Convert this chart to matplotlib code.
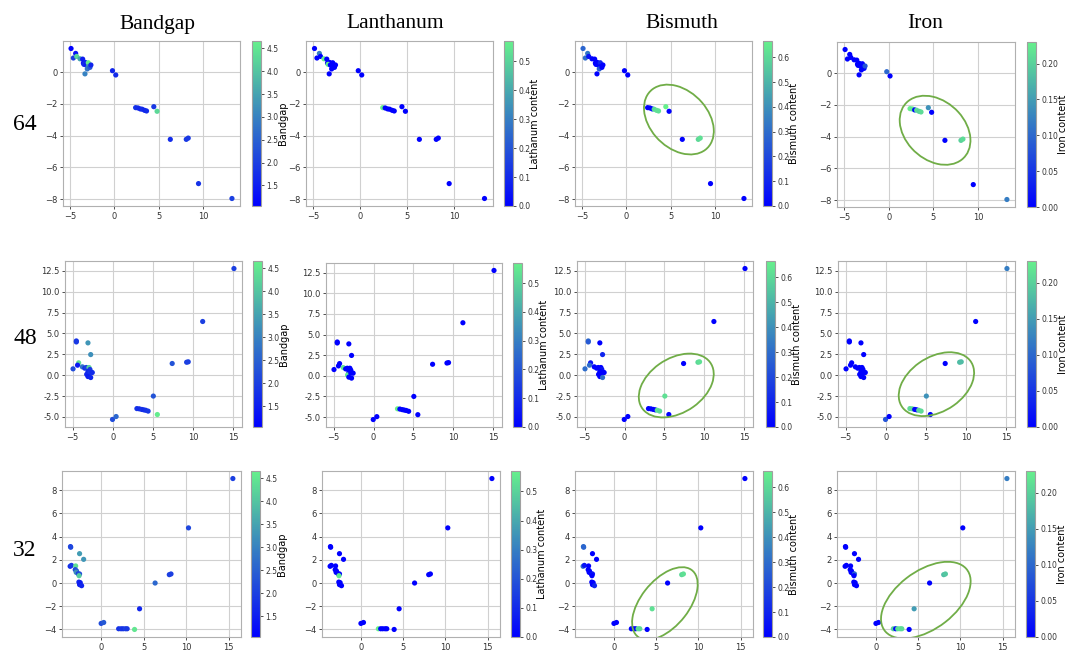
import matplotlib
matplotlib.use("Agg")
import matplotlib.pyplot as plt
from matplotlib.colors import LinearSegmentedColormap, Normalize
from matplotlib.patches import Ellipse
from matplotlib.ticker import MultipleLocator, FormatStrFormatter

# latent coordinates for each embedding size
x64 = [-4.89, -4.37, -4.63, -4.25, -3.88, -3.58, -3.50, -3.28, -3.44, -3.20, -2.95, -2.95, -3.06, -2.76, -2.65, -3.32,
       -0.22, 0.15, 2.39, 2.65, 2.91, 3.13, 3.40, 3.62, 4.44, 4.81, 6.30, 8.10, 8.32, 9.48, 13.25]
y64 = [1.50, 1.19, 0.90, 1.00, 0.85, 0.83, 0.58, 0.62, 0.50, 0.46, 0.60, 0.35, 0.21, 0.31, 0.46, -0.10,
       0.10, -0.17, -2.23, -2.25, -2.31, -2.33, -2.40, -2.44, -2.17, -2.46, -4.23, -4.23, -4.15, -7.02, -7.96]

x48 = [-4.96, -4.55, -4.55, -3.10, -2.76, -4.26, -4.40, -3.80, -3.50, -3.30, -2.97, -2.85, -3.10, -3.26, -2.85, -2.56,
       -3.10, -2.76, -0.04, 0.41, 3.00, 3.30, 3.60, 3.85, 4.10, 4.40, 5.05, 5.55, 7.40, 9.20, 9.40, 11.20, 15.10]
y48 = [0.76, 4.10, 3.98, 3.87, 2.47, 1.48, 1.20, 1.00, 0.84, 0.92, 0.92, 0.68, 0.44, 0.10, 0.32, 0.32,
       -0.16, -0.28, -5.30, -4.95, -4.00, -4.03, -4.10, -4.15, -4.20, -4.30, -2.50, -4.71, 1.40, 1.55, 1.60, 6.43, 12.77]

x32 = [-3.61, -3.58, -3.65, -3.50, -3.00, -3.05, -2.90, -2.94, -2.70, -2.54, -2.60, -2.54, -2.06, -2.62, -2.46, -2.54,
       -2.30, 0.00, 0.30, 2.06, 2.34, 2.58, 2.86, 3.06, 3.93, 4.52, 6.35, 8.02, 8.22, 10.28, 15.50]
y32 = [3.14, 3.08, 1.44, 1.52, 1.47, 1.15, 1.04, 0.92, 0.80, 0.78, 0.63, 2.53, 2.04, 0.08, 0.03, -0.14,
       -0.23, -3.48, -3.40, -3.94, -3.94, -3.94, -3.94, -3.94, -4.00, -2.22, 0.00, 0.72, 0.78, 4.75, 9.00]

# material properties used for colouring
bg64 = [1.05, 1.30, 2.00, 4.30, 3.50, 1.50, 1.40, 1.60, 1.70, 1.50, 4.66, 3.20, 2.80, 2.40, 1.60, 3.00,
        1.60, 1.70, 1.80, 1.70, 1.60, 1.70, 1.60, 1.70, 1.90, 4.30, 1.70, 1.90, 1.90, 1.80, 2.00]
la64 = [0.00, 0.30, 0.00, 0.00, 0.57, 0.00, 0.00, 0.00, 0.55, 0.00, 0.00, 0.00, 0.00, 0.00, 0.00, 0.00,
        0.00, 0.00, 0.57, 0.00, 0.00, 0.00, 0.00, 0.00, 0.00, 0.00, 0.00, 0.00, 0.00, 0.00, 0.00]
bi64 = [0.28, 0.33, 0.30, 0.05, 0.00, 0.00, 0.00, 0.00, 0.00, 0.00, 0.10, 0.00, 0.25, 0.00, 0.00, 0.00,
        0.00, 0.00, 0.00, 0.00, 0.00, 0.60, 0.62, 0.62, 0.666, 0.00, 0.00, 0.60, 0.62, 0.00, 0.00]
fe64 = [0.00, 0.00, 0.00, 0.00, 0.00, 0.00, 0.00, 0.00, 0.00, 0.00, 0.00, 0.00, 0.00, 0.00, 0.08, 0.00,
        0.10, 0.00, 0.23, 0.22, 0.00, 0.21, 0.20, 0.21, 0.14, 0.00, 0.00, 0.20, 0.21, 0.00, 0.12]

bg48 = [2.20, 1.80, 1.90, 3.30, 3.20, 4.40, 1.40, 2.80, 1.80, 2.00, 4.20, 1.90, 1.70, 1.60, 1.80, 1.70,
        1.50, 1.60, 2.20, 2.60, 1.80, 1.70, 1.80, 1.70, 1.80, 1.90, 2.30, 4.60, 2.30, 2.00, 2.00, 2.00, 2.00]
la48 = [0.00, 0.00, 0.00, 0.00, 0.00, 0.00, 0.00, 0.55, 0.00, 0.00, 0.00, 0.00, 0.00, 0.56, 0.00, 0.00,
        0.00, 0.00, 0.00, 0.00, 0.57, 0.00, 0.00, 0.00, 0.00, 0.00, 0.00, 0.00, 0.00, 0.00, 0.00, 0.00, 0.00]
bi48 = [0.30, 0.30, 0.25, 0.00, 0.10, 0.05, 0.30, 0.00, 0.00, 0.00, 0.00, 0.05, 0.00, 0.00, 0.00, 0.00,
        0.00, 0.30, 0.00, 0.00, 0.00, 0.00, 0.00, 0.00, 0.62, 0.60, 0.62, 0.00, 0.00, 0.60, 0.62, 0.00, 0.00]
fe48 = [0.00, 0.00, 0.00, 0.00, 0.00, 0.00, 0.00, 0.00, 0.00, 0.00, 0.00, 0.00, 0.00, 0.00, 0.00, 0.00,
        0.00, 0.00, 0.08, 0.00, 0.21, 0.21, 0.00, 0.00, 0.20, 0.21, 0.14, 0.00, 0.00, 0.18, 0.18, 0.00, 0.12]

bg32 = [2.00, 2.10, 1.70, 1.90, 4.40, 2.20, 2.40, 3.20, 2.00, 2.20, 4.10, 3.40, 3.30, 1.60, 1.50, 1.50,
        1.60, 2.20, 2.40, 1.80, 1.90, 1.80, 2.00, 1.90, 4.50, 1.60, 2.60, 2.00, 2.00, 2.10, 2.00]
la32 = [0.00, 0.00, 0.00, 0.00, 0.00, 0.00, 0.00, 0.00, 0.00, 0.00, 0.55, 0.00, 0.00, 0.00, 0.00, 0.00,
        0.00, 0.00, 0.00, 0.57, 0.00, 0.00, 0.00, 0.00, 0.00, 0.00, 0.00, 0.00, 0.00, 0.00, 0.00]
bi32 = [0.30, 0.28, 0.30, 0.05, 0.00, 0.00, 0.00, 0.00, 0.00, 0.05, 0.00, 0.00, 0.00, 0.00, 0.00, 0.00,
        0.10, 0.00, 0.00, 0.00, 0.00, 0.00, 0.62, 0.60, 0.00, 0.62, 0.00, 0.60, 0.62, 0.00, 0.00]
fe32 = [0.00, 0.00, 0.00, 0.00, 0.00, 0.00, 0.00, 0.00, 0.00, 0.10, 0.00, 0.00, 0.00, 0.00, 0.00, 0.00,
        0.00, 0.00, 0.00, 0.20, 0.00, 0.21, 0.22, 0.21, 0.00, 0.15, 0.00, 0.18, 0.19, 0.00, 0.12]

sizes = ["64", "48", "32"]
columns = ["Bandgap", "Lanthanum", "Bismuth", "Iron"]
cbar_labels = ["Bandgap", "Lathanum content", "Bismuth content", "Iron content"]

coords = [(x64, y64), (x48, y48), (x32, y32)]
props = [[bg64, la64, bi64, fe64],
         [bg48, la48, bi48, fe48],
         [bg32, la32, bi32, fe32]]

# clusters circled in the Bi / Fe panels: (row, col) -> centre, width, height, angle (axes fraction)
circles = {(0, 2): (0.587, 0.524, 0.473, 0.333, -51),
           (0, 3): (0.551, 0.465, 0.465, 0.342, -50),
           (1, 2): (0.564, 0.250, 0.475, 0.322, 37),
           (1, 3): (0.556, 0.258, 0.475, 0.322, 37),
           (2, 2): (0.505, 0.202, 0.503, 0.272, 54),
           (2, 3): (0.499, 0.222, 0.591, 0.343, 40)}

# panel boxes in pixels: (left, right, top, bottom, cbar_left, cbar_right)
W, H = 1068, 652
boxes = [
    [(63, 240, 41, 206, 252, 261), (306, 493, 41, 206, 504, 513),
     (575, 752, 41, 206, 763, 772), (837, 1015, 42, 207, 1027, 1036)],
    [(65, 242, 261, 427, 253, 262), (326, 502, 263, 427, 513, 522),
     (577, 753, 261, 427, 766, 775), (838, 1015, 261, 427, 1027, 1036)],
    [(62, 241, 471, 637, 251, 260), (322, 500, 471, 637, 511, 520),
     (575, 753, 471, 637, 763, 772), (837, 1015, 471, 637, 1026, 1035)],
]
xsteps = [5, 5, 5]
ysteps = [2, 2.5, 2]
cticks = [0.5, 0.1, 0.1, 0.05]
cfmt = ["%.1f", "%.1f", "%.1f", "%.2f"]

cmap = LinearSegmentedColormap.from_list("bluegreen", ["#0000ff", "#66f08c"])

# same colour scale for a property in every row
norms = []
for j in range(4):
    vals = props[0][j] + props[1][j] + props[2][j]
    norms.append(Normalize(min(vals), max(vals)))

fig = plt.figure(figsize=(W / 100, H / 100), dpi=100)

for i in range(3):
    xs, ys = coords[i]
    for j in range(4):
        l, r, t, b, cl, cr = boxes[i][j]
        ax = fig.add_axes([l / W, 1 - b / H, (r - l) / W, (b - t) / H])
        sc = ax.scatter(xs, ys, c=props[i][j], cmap=cmap, norm=norms[j], s=14, linewidths=0, zorder=3)
        ax.set_axisbelow(True)
        ax.grid(True, color="#d0d0d0", linewidth=0.8)
        ax.xaxis.set_major_locator(MultipleLocator(xsteps[i]))
        ax.yaxis.set_major_locator(MultipleLocator(ysteps[i]))
        if i == 1:
            ax.yaxis.set_major_formatter(FormatStrFormatter("%.1f"))
        ax.tick_params(labelsize=6, colors="#333333", length=2.5, width=0.6, pad=1.5)
        for sp in ax.spines.values():
            sp.set_color("#b0b0b0")
        if (i, j) in circles:
            cx, cy, ew, eh, ang = circles[(i, j)]
            ax.add_patch(Ellipse((cx, cy), ew, eh, angle=ang, transform=ax.transAxes,
                                 fill=False, edgecolor="#70ad47", linewidth=1.3, zorder=4))

        cax = fig.add_axes([cl / W, 1 - b / H, (cr - cl) / W, (b - t) / H])
        cb = fig.colorbar(sc, cax=cax)
        cb.outline.set_edgecolor("#a0a0a0")
        cb.outline.set_linewidth(0.8)
        cb.locator = MultipleLocator(cticks[j])
        cb.formatter = FormatStrFormatter(cfmt[j])
        cb.update_ticks()
        cb.ax.tick_params(labelsize=5.5, colors="#333333", length=2.5, width=0.6, pad=1.5)
        cb.set_label(cbar_labels[j], fontsize=7, labelpad=-0.5)

# column headings and row labels
for x, name in zip([157, 395, 682, 925], columns):
    fig.text(x / W, 1 - 24 / H, name, ha="center", va="center", fontsize=15.5, family="Liberation Serif")
for y, name in zip([125, 338, 550], sizes):
    fig.text(25 / W, 1 - y / H, name, ha="center", va="center", fontsize=17, family="Liberation Serif")

fig.savefig("out.png", dpi=100)
